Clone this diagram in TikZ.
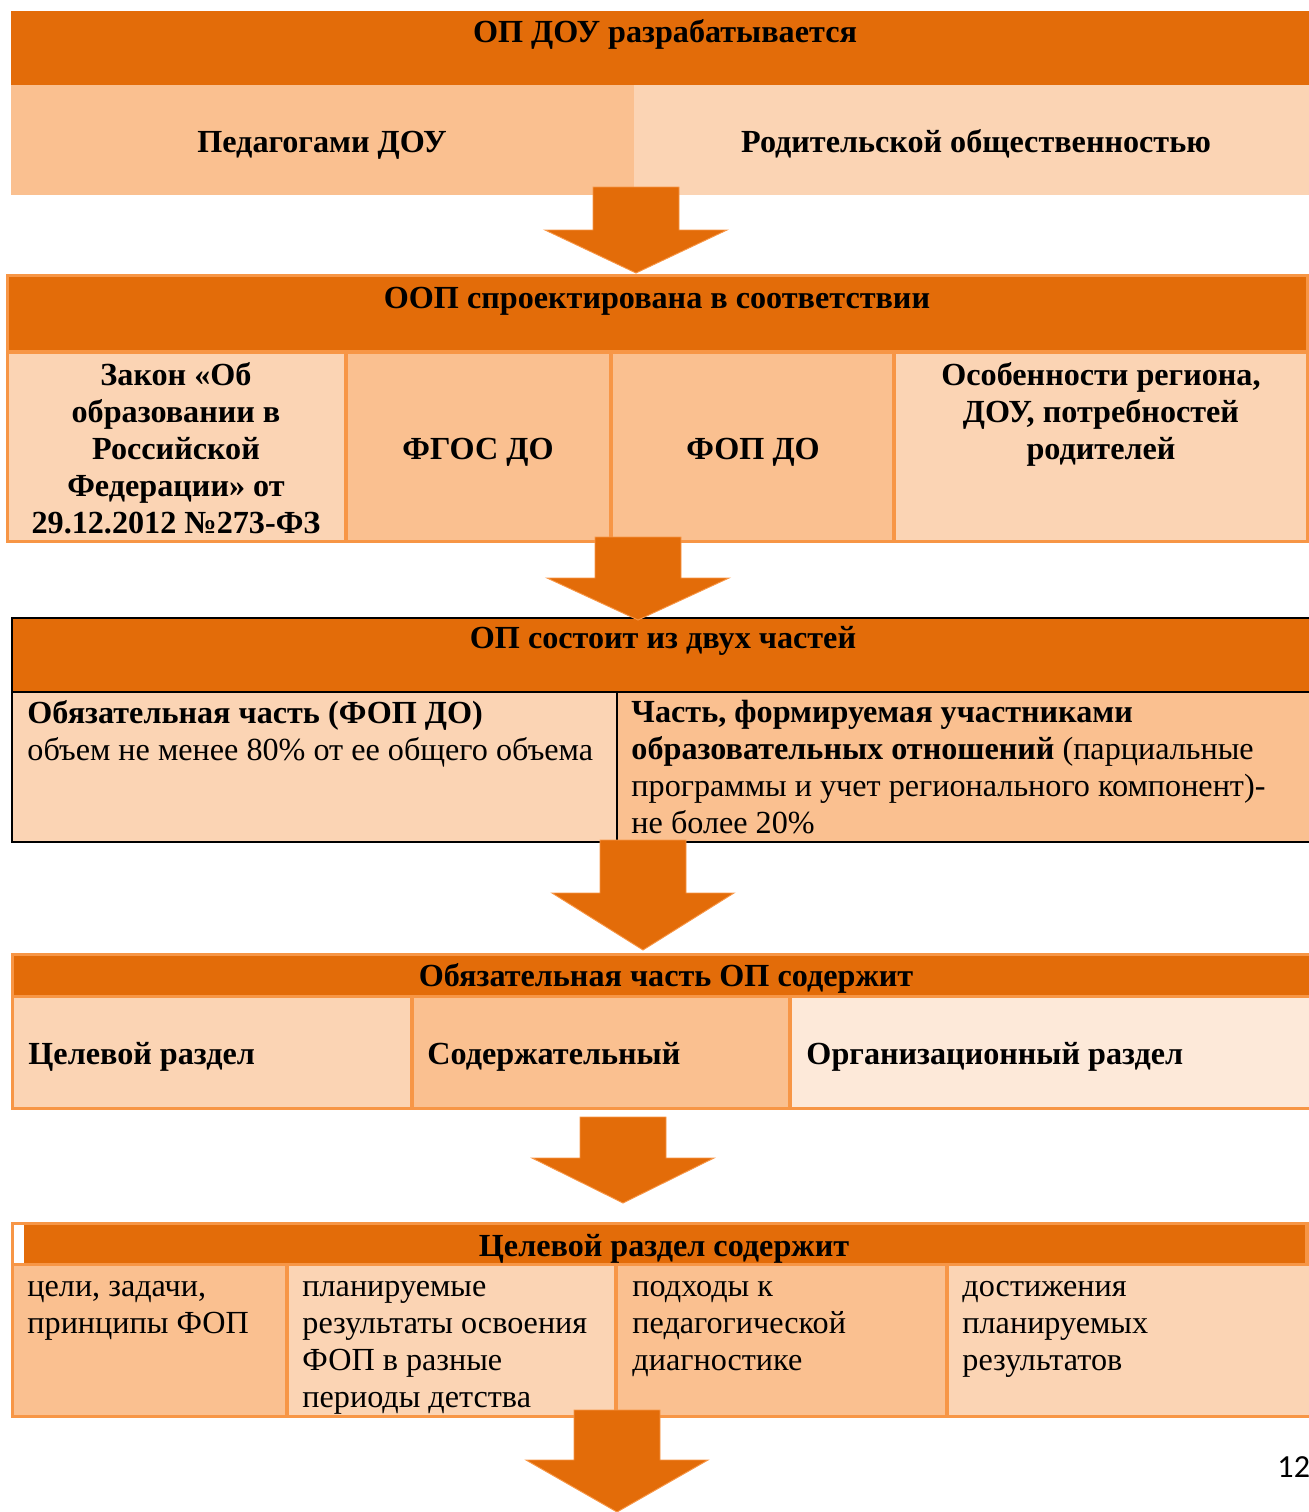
\documentclass[tikz,border=0pt]{standalone}
\usepackage{fontspec}
\setmainfont{Liberation Serif}
\newfontfamily\pagenumfont{Carlito}
\usetikzlibrary{positioning}
\definecolor{hdr}{HTML}{E36C09}
\definecolor{rim}{HTML}{F79646}
\definecolor{midpeach}{HTML}{FAC090}
\definecolor{lightpeach}{HTML}{FBD4B4}
\definecolor{palepeach}{HTML}{FDE9D9}

\begin{document}
\begin{tikzpicture}[x=0.435pt, y=-0.435pt,
  txt/.style={inner sep=0pt, font=\fontsize{14}{16.1}\selectfont, execute at begin node=\strut},
  btxt/.style={txt, font=\fontsize{14}{16.1}\selectfont\bfseries},
  arrowfill/.style={fill=hdr, draw=rim, line width=0.4pt}]
  \useasboundingbox (0,0) rectangle (1309,1512);
  % block 1
  \fill[hdr] (11,11) rectangle (1309,85);
  \fill[midpeach] (11,85) rectangle (634,195);
  \fill[lightpeach] (634,85) rectangle (1309,195);
  % block 2
  \fill[rim] (6,274) rectangle (1309,543);
  \fill[hdr] (9,277) rectangle (1306,350);
  \fill[lightpeach] (9,354) rectangle (344,540);
  \fill[midpeach] (348,354) rectangle (609,540);
  \fill[midpeach] (613,354) rectangle (892,540);
  \fill[lightpeach] (896,354) rectangle (1306,540);
  % block 3
  \fill[hdr] (12,618) rectangle (1309,692);
  \fill[lightpeach] (12,692) rectangle (617,842);
  \fill[midpeach] (617,692) rectangle (1309,842);
  \draw[line width=0.9pt] (1309,618) -- (12,618) -- (12,842) -- (1309,842);
  \draw[line width=0.9pt] (12,692) -- (1309,692) (617,692) -- (617,842);
  % block 4
  \fill[rim] (11,953) rectangle (1309,1110);
  \fill[hdr] (14,956) rectangle (1309,995);
  \fill[lightpeach] (14,998) rectangle (410,1107);
  \fill[midpeach] (414,998) rectangle (788,1107);
  \fill[palepeach] (792,998) rectangle (1309,1107);
  % block 5
  \fill[rim] (11,1222) rectangle (1309,1418);
  \fill[white] (14,1225) rectangle (24,1263);
  \fill[hdr] (24,1225) rectangle (1305,1263);
  \fill[midpeach] (14,1266) rectangle (285,1415);
  \fill[lightpeach] (289,1266) rectangle (614,1415);
  \fill[midpeach] (618,1266) rectangle (945,1415);
  \fill[lightpeach] (949,1266) rectangle (1309,1415);
  % down arrows
  \foreach \cx/\ytop/\yneck/\ytip in {636/187/230/273, 638/537/578/620, 643/840/893/950, 623/1117/1158/1203, 617/1410/1460/1512}
    \draw[arrowfill] (\cx-43,\ytop) -- (\cx+43,\ytop) -- (\cx+43,\yneck) -- (\cx+91,\yneck)
      -- (\cx,\ytip) -- (\cx-91,\yneck) -- (\cx-43,\yneck) -- cycle;
  % texts
  \node[btxt, anchor=north] (dev) at (665,16) {ОП ДОУ разрабатывается};
  \node[btxt, anchor=north] (ped) at (322,126) {Педагогами ДОУ};
  \node[btxt, anchor=north] (par) at (976,126) {Родительской общественностью};

  \node[btxt, anchor=north] (oop) at (657,282) {ООП спроектирована в соответствии};
  \node[btxt, anchor=north, align=center] (law) at (176,362)
    {Закон «Об\\образовании в\\Российской\\Федерации» от\\29.12.2012 №273-ФЗ};
  \node[btxt, anchor=north] (fgos) at (478,433) {ФГОС ДО};
  \node[btxt, anchor=north] (fop) at (753,433) {ФОП ДО};
  \node[btxt, anchor=north, align=center] (reg) at (1101,362)
    {Особенности региона,\\ДОУ, потребностей\\родителей};

  \node[btxt, anchor=north] (two) at (663,622) {ОП состоит из двух частей};
  \node[txt, anchor=north west, align=left] (must) at (27,700)
    {\textbf{Обязательная часть (ФОП ДО)}\\объем не менее 80\% от ее общего объема};
  \node[txt, anchor=north west, align=left] (form) at (631,700)
    {\textbf{Часть, формируемая участниками}\\\textbf{образовательных отношений} (парциальные\\программы и учет регионального компонент)-\\не более 20\%};

  \node[btxt, anchor=north] (mustin) at (666,960) {Обязательная часть ОП содержит};
  \node[btxt, anchor=north west] (goal) at (28,1038) {Целевой раздел};
  \node[btxt, anchor=north west] (cont) at (427,1038) {Содержательный};
  \node[btxt, anchor=north west] (org) at (806,1038) {Организационный раздел};

  \node[btxt, anchor=north] (goalin) at (664,1230) {Целевой раздел содержит};
  \node[txt, anchor=north west, align=left] (aims) at (27,1281) {цели, задачи,\\принципы ФОП};
  \node[txt, anchor=north west, align=left] (res) at (302,1281)
    {планируемые\\результаты освоения\\ФОП в разные\\периоды детства};
  \node[txt, anchor=north west, align=left] (diag) at (632,1281) {подходы к\\педагогической\\диагностике};
  \node[txt, anchor=north west, align=left] (ach) at (962,1281) {достижения\\планируемых\\результатов};

  \node[inner sep=0pt, anchor=base west, font=\pagenumfont\fontsize{14}{16}\selectfont] (pg) at (1277,1477) {120};
\end{tikzpicture}
\end{document}
